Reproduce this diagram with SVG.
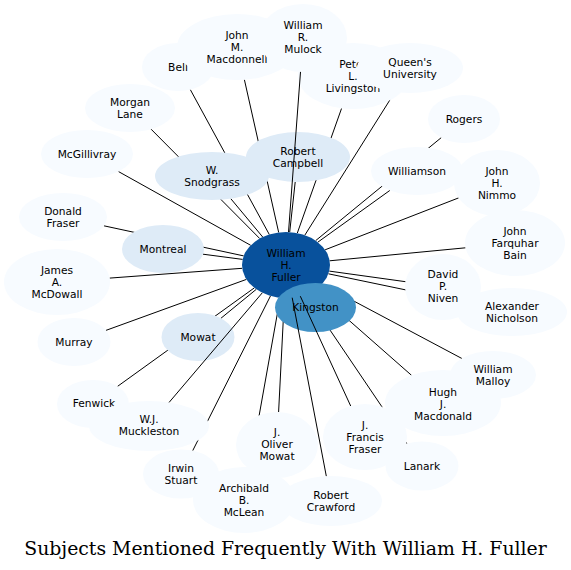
<svg xmlns="http://www.w3.org/2000/svg" width="571" height="570" viewBox="0 0 571 570">
<style>
.n0{fill:#f7fbff}
.n1{fill:#deebf7}
.n2{fill:#4292c6}
.n3{fill:#08519c}
text{font-family:"DejaVu Sans","Liberation Sans",sans-serif;font-size:10.67px;text-anchor:middle;fill:#000}
.title{font-family:"DejaVu Serif","Liberation Serif",serif;font-size:18.85px}
.e line{stroke:#000;stroke-width:1;fill:none}
</style>
<rect width="571" height="570" fill="#fff"/>
<g id="connectors" class="e">
<line x1="269.3" y1="234.5" x2="190.3" y2="89.6"/>
<line x1="278.7" y1="232.5" x2="244.4" y2="79.7"/>
<line x1="297.3" y1="233.1" x2="341.6" y2="108.3"/>
<line x1="304.8" y1="235.2" x2="394.9" y2="92.0"/>
<line x1="259.7" y1="238.5" x2="151.1" y2="129.2"/>
<line x1="250.7" y1="245.3" x2="118.4" y2="171.5"/>
<line x1="262.7" y1="237.0" x2="230.8" y2="198.7"/>
<line x1="289.7" y1="232.1" x2="295.2" y2="182.0"/>
<line x1="315.7" y1="240.6" x2="441.3" y2="137.6"/>
<line x1="317.8" y1="242.2" x2="389.9" y2="190.4"/>
<line x1="325.1" y1="249.8" x2="458.6" y2="197.9"/>
<line x1="329.6" y1="260.8" x2="465.5" y2="247.8"/>
<line x1="329.3" y1="271.1" x2="405.5" y2="281.7"/>
<line x1="328.4" y1="273.8" x2="462.4" y2="301.7"/>
<line x1="306.3" y1="294.3" x2="299.8" y2="284.9"/>
<line x1="242.6" y1="259.4" x2="203.0" y2="254.2"/>
<line x1="243.7" y1="255.9" x2="103.9" y2="225.8"/>
<line x1="242.2" y1="268.3" x2="109.6" y2="278.1"/>
<line x1="246.4" y1="279.4" x2="105.9" y2="330.4"/>
<line x1="256.3" y1="289.3" x2="220.9" y2="318.3"/>
<line x1="254.3" y1="287.9" x2="117.5" y2="386.4"/>
<line x1="270.5" y1="295.9" x2="192.7" y2="450.7"/>
<line x1="280.2" y1="297.7" x2="249.9" y2="467.2"/>
<line x1="284.4" y1="298.0" x2="278.6" y2="412.0"/>
<line x1="305.9" y1="294.4" x2="406.9" y2="443.7"/>
<line x1="314.6" y1="290.1" x2="411.5" y2="375.3"/>
<line x1="321.9" y1="284.1" x2="461.9" y2="358.5"/>
</g>
<g id="nodes">
<g id="node-fuller"><ellipse class="n3" cx="286" cy="265" rx="44" ry="33"/><text x="286" y="256.8">William</text><text x="286" y="268.8">H.</text><text x="286" y="280.8">Fuller</text></g>
<g id="node-kingston"><ellipse class="n2" cx="315.5" cy="307.5" rx="40.5" ry="24.5"/><text x="315.5" y="311.3">Kingston</text></g>
<g id="node-bell"><ellipse class="n0" cx="178" cy="67" rx="36" ry="24"/><text x="178" y="70.8">Bell</text></g>
<g id="node-macdonnell"><ellipse class="n0" cx="237" cy="47" rx="60" ry="33"/><text x="237" y="38.8">John</text><text x="237" y="50.8">M.</text><text x="237" y="62.8">Macdonnell</text></g>
<g id="node-livingston"><ellipse class="n0" cx="353" cy="76" rx="55" ry="33"/><text x="353" y="67.8">Peter</text><text x="353" y="79.8">L.</text><text x="353" y="91.8">Livingston</text></g>
<g id="node-mulock"><ellipse class="n0" cx="303" cy="38" rx="44" ry="34"/><text x="303" y="28.8">William</text><text x="303" y="40.8">R.</text><text x="303" y="52.8">Mulock</text></g>
<g id="node-queens"><ellipse class="n0" cx="410" cy="68" rx="53" ry="25"/><text x="410" y="65.8">Queen's</text><text x="410" y="77.8">University</text></g>
<g id="node-morgan-lane"><ellipse class="n0" cx="130" cy="108" rx="45" ry="24"/><text x="130" y="105.8">Morgan</text><text x="130" y="117.8">Lane</text></g>
<g id="node-mcgillivray"><ellipse class="n0" cx="87" cy="154" rx="46" ry="24"/><text x="87" y="157.8">McGillivray</text></g>
<g id="node-snodgrass"><ellipse class="n1" cx="212" cy="176" rx="57" ry="24"/><text x="212" y="173.8">W.</text><text x="212" y="185.8">Snodgrass</text></g>
<g id="node-robert-campbell"><ellipse class="n1" cx="298" cy="157" rx="52" ry="25"/><text x="298" y="154.8">Robert</text><text x="298" y="166.8">Campbell</text></g>
<g id="node-rogers"><ellipse class="n0" cx="464" cy="119" rx="36" ry="24"/><text x="464" y="122.8">Rogers</text></g>
<g id="node-williamson"><ellipse class="n0" cx="417" cy="171" rx="46" ry="24"/><text x="417" y="174.8">Williamson</text></g>
<g id="node-nimmo"><ellipse class="n0" cx="497" cy="183" rx="43" ry="33"/><text x="497" y="174.8">John</text><text x="497" y="186.8">H.</text><text x="497" y="198.8">Nimmo</text></g>
<g id="node-bain"><ellipse class="n0" cx="515" cy="243" rx="50" ry="33"/><text x="515" y="234.8">John</text><text x="515" y="246.8">Farquhar</text><text x="515" y="258.8">Bain</text></g>
<g id="node-nicholson"><ellipse class="n0" cx="512" cy="312" rx="55" ry="24"/><text x="512" y="309.8">Alexander</text><text x="512" y="321.8">Nicholson</text></g>
<g id="node-niven"><ellipse class="n0" cx="443" cy="287" rx="38" ry="33"/><text x="443" y="277.8">David</text><text x="443" y="289.8">P.</text><text x="443" y="301.8">Niven</text></g>
<g id="node-donald-fraser"><ellipse class="n0" cx="63" cy="217" rx="44" ry="24"/><text x="63" y="214.8">Donald</text><text x="63" y="226.8">Fraser</text></g>
<g id="node-montreal"><ellipse class="n1" cx="163" cy="249" rx="41" ry="24"/><text x="163" y="252.8">Montreal</text></g>
<g id="node-mcdowall"><ellipse class="n0" cx="57" cy="282" rx="53" ry="33"/><text x="57" y="273.8">James</text><text x="57" y="285.8">A.</text><text x="57" y="297.8">McDowall</text></g>
<g id="node-murray"><ellipse class="n0" cx="74" cy="342" rx="36.5" ry="24"/><text x="74" y="345.8">Murray</text></g>
<g id="node-fenwick"><ellipse class="n0" cx="93" cy="404" rx="36" ry="24"/><text x="94" y="407">Fenwick</text></g>
<g id="node-mowat"><ellipse class="n1" cx="198" cy="337" rx="36.5" ry="24"/><text x="198" y="340.8">Mowat</text></g>
<g id="node-irwin-stuart"><ellipse class="n0" cx="181" cy="474" rx="38" ry="24.5"/><text x="181" y="471.8">Irwin</text><text x="181" y="483.8">Stuart</text></g>
<g id="node-muckleston"><ellipse class="n0" cx="149" cy="426" rx="60" ry="25"/><text x="149" y="422.8">W.J.</text><text x="149" y="434.8">Muckleston</text></g>
<g id="node-mclean"><ellipse class="n0" cx="244" cy="500" rx="51" ry="33"/><text x="244" y="491.8">Archibald</text><text x="244" y="503.8">B.</text><text x="244" y="515.8">McLean</text></g>
<g id="node-oliver-mowat"><ellipse class="n0" cx="277" cy="445" rx="41" ry="33"/><text x="277" y="435.8">J.</text><text x="277" y="447.8">Oliver</text><text x="277" y="459.8">Mowat</text></g>
<g id="node-crawford"><ellipse class="n0" cx="331" cy="501" rx="51" ry="25"/><text x="331" y="498.8">Robert</text><text x="331" y="510.8">Crawford</text></g>
<g id="node-francis-fraser"><ellipse class="n0" cx="365" cy="437" rx="42" ry="33"/><text x="365" y="428.8">J.</text><text x="365" y="440.8">Francis</text><text x="365" y="452.8">Fraser</text></g>
<g id="node-lanark"><ellipse class="n0" cx="422" cy="466" rx="36.5" ry="24.5"/><text x="422" y="469.5">Lanark</text></g>
<g id="node-hugh-macdonald"><ellipse class="n0" cx="443" cy="403" rx="58" ry="33"/><text x="443" y="395.8">Hugh</text><text x="443" y="407.8">J.</text><text x="443" y="419.8">Macdonald</text></g>
<g id="node-malloy"><ellipse class="n0" cx="493" cy="375" rx="43" ry="24"/><text x="493" y="372.8">William</text><text x="493" y="384.8">Malloy</text></g>
</g>
<g id="connectors-over" class="e">
<line x1="288.5" y1="232.1" x2="300.5" y2="71.9"/>
<line x1="262.3" y1="292.8" x2="169.1" y2="402.4"/>
<line x1="292.2" y1="297.7" x2="326.3" y2="476.1"/>
<line x1="300.3" y1="296.2" x2="350.7" y2="406.0"/>
</g>
<text class="title" x="285.5" y="555">Subjects Mentioned Frequently With William H. Fuller</text>
</svg>
